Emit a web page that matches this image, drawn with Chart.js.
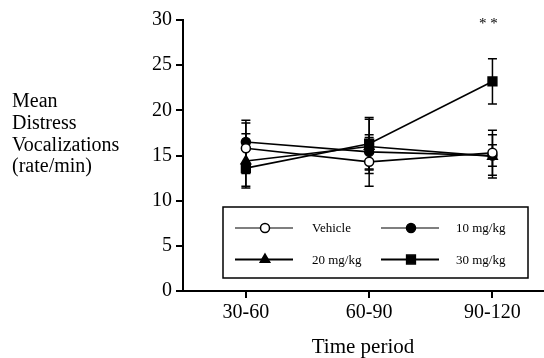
<!DOCTYPE html>
<html>
<head>
<meta charset="utf-8">
<script src="https://cdn.jsdelivr.net/npm/chart.js@4.4.0/dist/chart.umd.min.js"></script>
<style>
html, body { margin: 0; padding: 0; background: #fff; overflow: hidden; }
#wrap { width: 544px; height: 358px; }
canvas { display: block; }
</style>
</head>
<body>
<div id="wrap"><canvas id="chart" width="544" height="358"></canvas></div>
<script>
const periods = ['30-60', '60-90', '90-120'];
const seriesNames = ['Vehicle', '10 mg/kg', '20 mg/kg', '30 mg/kg'];
const vehicle = [15.8, 14.3, 15.3];
const mg10 = [16.5, 15.4, 15.0];
const mg20 = [14.4, 16.0, 14.9];
const mg30 = [13.6, 16.3, 23.2];
const vehicleErr = [2.8, 2.7, 2.5];
const mg10Err = [2.4, 1.9, 1.2];
const mg20Err = [3.0, 3.0, 2.4];
const mg30Err = [2.0, 2.9, 2.5];
const yTicks = [0, 5, 10, 15, 20, 25, 30];
const yTitle = ['Mean', 'Distress', 'Vocalizations', '(rate/min)'];
const marks = [{ period: '90-120', value: 29.6, text: '* *' }];

const SERIF = "'Liberation Serif', 'DejaVu Serif', serif";

function toPoints(arr) {
    return arr.map((v, i) => ({ x: i + 1, y: v }));
}

function makeSet(label, values, errs, style, fill, radius) {
    return {
        label,
        data: toPoints(values),
        errs,
        borderColor: '#000',
        borderWidth: 1.6,
        pointStyle: style,
        pointRadius: radius,
        pointBackgroundColor: fill,
        pointBorderColor: '#000',
        pointBorderWidth: 1.5,
        tension: 0
    };
}

const datasets = [
    makeSet(seriesNames[0], vehicle, vehicleErr, 'circle', '#fff', 4.5),
    makeSet(seriesNames[1], mg10, mg10Err, 'circle', '#000', 4.5),
    makeSet(seriesNames[2], mg20, mg20Err, 'triangle', '#000', 5.5),
    makeSet(seriesNames[3], mg30, mg30Err, 'rect', '#000', 6.2)
];

// error bars under the markers
const errorBars = {
    id: 'errorBars',
    beforeDatasetsDraw(chart) {
        const { ctx, scales: { x, y } } = chart;
        ctx.save();
        ctx.strokeStyle = '#000';
        ctx.lineWidth = 1.5;
        chart.data.datasets.forEach(ds => {
            ds.data.forEach((p, i) => {
                const px = x.getPixelForValue(p.x);
                const top = y.getPixelForValue(p.y + ds.errs[i]);
                const bot = y.getPixelForValue(p.y - ds.errs[i]);
                ctx.beginPath();
                ctx.moveTo(px, top); ctx.lineTo(px, bot);
                ctx.moveTo(px - 4.5, top); ctx.lineTo(px + 4.5, top);
                ctx.moveTo(px - 4.5, bot); ctx.lineTo(px + 4.5, bot);
                ctx.stroke();
            });
        });
        ctx.restore();
    }
};

// boxed legend inside plot, y title, significance marks
const extras = {
    id: 'extras',
    afterDraw(chart) {
        const { ctx, chartArea: ca, scales: { x, y } } = chart;
        ctx.save();

        // legend box
        const left = ca.left + 40, top = ca.top + 187, w = 305, h = 71;
        ctx.fillStyle = '#fff';
        ctx.fillRect(left, top, w, h);
        ctx.strokeStyle = '#000';
        ctx.lineWidth = 1.5;
        ctx.strokeRect(left, top, w, h);
        ctx.font = '13px ' + SERIF;
        ctx.textBaseline = 'middle';
        ctx.textAlign = 'left';
        chart.data.datasets.forEach((ds, i) => {
            const col = i % 2, row = Math.floor(i / 2);
            const ly = top + 21 + row * 31.5;
            const lx = left + 12 + col * 146;
            ctx.strokeStyle = '#000';
            ctx.lineWidth = row === 0 ? 1.2 : 2;
            ctx.beginPath();
            ctx.moveTo(lx, ly); ctx.lineTo(lx + 58, ly);
            ctx.stroke();
            ctx.fillStyle = ds.pointBackgroundColor;
            ctx.lineWidth = 1.5;
            Chart.helpers.drawPoint(ctx, {
                pointStyle: ds.pointStyle, radius: ds.pointRadius, rotation: 0, borderWidth: 1.5
            }, lx + 30, ly);
            ctx.fillStyle = '#000';
            ctx.fillText(ds.label, lx + (col === 0 ? 77 : 75), ly + 1);
        });

        // y title, horizontal
        ctx.font = '20px ' + SERIF;
        ctx.textBaseline = 'middle';
        yTitle.forEach((t, i) => ctx.fillText(t, 12, 102 + i * 21.7));

        // ** marks
        ctx.font = '15px ' + SERIF;
        ctx.textAlign = 'center';
        marks.forEach(m => {
            ctx.fillText(m.text, x.getPixelForValue(periods.indexOf(m.period) + 1) - 4, y.getPixelForValue(m.value));
        });
        ctx.restore();
    }
};

new Chart(document.getElementById('chart'), {
    type: 'line',
    data: { datasets },
    options: {
        responsive: false,
        animation: false,
        layout: { autoPadding: false, padding: { top: 20, right: 1, left: 0, bottom: 0 } },
        plugins: { legend: { display: false }, tooltip: { enabled: false } },
        scales: {
            x: {
                type: 'linear',
                min: 0.49,
                max: 3.41,
                afterBuildTicks: s => { s.ticks = periods.map((p, i) => ({ value: i + 1 })); },
                afterFit: s => { s.height = 67; s.paddingLeft = 0; s.paddingRight = 0; },
                ticks: {
                    color: '#000',
                    font: { family: SERIF, size: 20 },
                    padding: 3,
                    maxRotation: 0,
                    callback: v => periods[v - 1]
                },
                grid: { drawOnChartArea: false, drawTicks: true, tickLength: 7, color: '#000', lineWidth: 2 },
                border: { color: '#000', width: 2 },
                title: {
                    display: true, text: 'Time period', color: '#000',
                    font: { family: SERIF, size: 21, lineHeight: 1 }, padding: { top: 0, bottom: 0 }
                }
            },
            y: {
                min: 0,
                max: 30,
                afterBuildTicks: s => { s.ticks = yTicks.map(v => ({ value: v })); },
                afterFit: s => { s.width = 183; },
                ticks: { color: '#000', font: { family: SERIF, size: 20 }, padding: 4 },
                grid: { drawOnChartArea: false, drawTicks: true, tickLength: 7, color: '#000', lineWidth: 2 },
                border: { color: '#000', width: 2 }
            }
        }
    },
    plugins: [errorBars, extras]
});
</script>
</body>
</html>
